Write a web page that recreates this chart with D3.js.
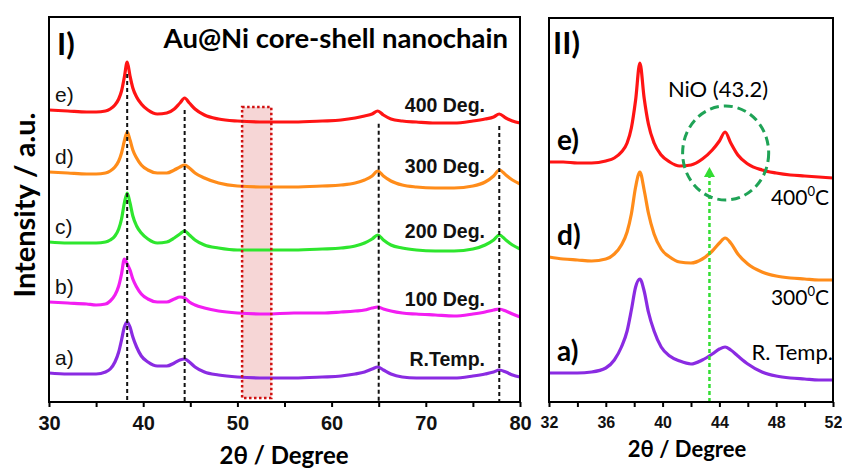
<!DOCTYPE html>
<html>
<head>
<meta charset="utf-8">
<script src="https://cdn.jsdelivr.net/npm/d3@7"></script>
<style>
  html, body { margin: 0; padding: 0; background: #fff; }
  svg { display: block; }
</style>
</head>
<body>
<svg id="chart" width="842" height="468"></svg>
<script>
// ---------- Panel I: full 2θ scan, five annealing temperatures (stacked, a.u.) ----------
const twoThetaI = [30, 32, 34, 35, 36, 36.5, 37, 37.4, 37.7, 38.0, 38.3, 38.6, 38.9, 39.3, 39.8, 40.5,
  41.5, 42.5, 43.3, 43.9, 44.4, 44.9, 45.5, 46.5, 48, 50, 53, 56, 59, 61, 62.5, 63.5, 64.3, 64.9,
  65.5, 66.3, 67.5, 69, 71, 73, 75, 76.3, 77.2, 77.8, 78.5, 79.2, 80];

const intensityRT = [29, 28, 28, 28, 30, 33, 40, 50, 62, 75, 80, 75, 65, 55, 46, 40, 36, 36, 39, 42,
  43, 40, 35, 30, 27, 25, 24, 24, 25, 26, 28, 30, 33, 35, 32, 28, 25, 24, 24, 24, 26, 28, 30, 32, 30, 27, 25];
const intensity100 = [100, 99, 98, 97, 98, 101, 107, 116, 128, 143, 138, 132, 123, 115, 108, 103, 100, 100,
  103, 105, 104, 100, 97, 94, 91, 89, 88, 89, 89, 90, 91, 92, 94, 95, 93, 91, 89, 88, 87, 86, 88, 90, 92, 93, 91, 88, 85];
const intensity200 = [160, 159, 159, 159, 160, 162, 166, 173, 183, 199, 209, 199, 186, 176, 169, 163, 159, 160,
  164, 168, 171, 167, 162, 157, 154, 152, 152, 152, 153, 154, 156, 159, 163, 167, 162, 157, 154, 152, 151, 151,
  153, 157, 162, 167, 162, 157, 153];
const intensity300 = [230, 229, 228, 228, 229, 231, 235, 241, 249, 261, 270, 262, 252, 244, 237, 232, 229, 229,
  232, 235, 237, 234, 229, 224, 219, 216, 215, 215, 216, 217, 219, 222, 226, 231, 226, 221, 217, 215, 214, 214,
  216, 220, 226, 232, 227, 222, 218];
const intensity400 = [292, 291, 290, 290, 291, 293, 297, 303, 311, 325, 340, 326, 314, 305, 298, 292, 288, 289,
  293, 299, 304, 299, 293, 287, 283, 281, 280, 280, 281, 282, 284, 286, 288, 291, 287, 283, 281, 280, 279, 279,
  281, 283, 285, 288, 284, 281, 279];

const sampleTagsI = ["a)", "b)", "c)", "d)", "e)"];
const tempLabelsI = ["R.Temp.", "100 Deg.", "200 Deg.", "300 Deg.", "400 Deg."];
const colorsI = ["#8a2be2", "#f21ef2", "#2ee62e", "#ff8c1a", "#ff1414"];

const refPeaks = [38.3, 44.4, 65.0, 77.8];      // Au reflections
const emptyWindow = [50.5, 53.6];              // region with no Ni / NiO reflection
const ticksI = [30, 35, 40, 45, 50, 55, 60, 65, 70, 75, 80];

// ---------- Panel II: zoom on 32–52°, NiO (43.2) emerging at 400 °C ----------
const twoThetaII = [32, 33, 34, 35, 36, 36.6, 37.1, 37.5, 37.8, 38.1, 38.4, 38.7, 39.0, 39.4, 39.9, 40.5,
  41.2, 42, 42.8, 43.5, 44.0, 44.4, 44.8, 45.3, 46, 47, 48, 49, 50, 51, 52];
const zoomRT = [29, 29, 29, 30, 34, 42, 55, 71, 92, 115, 123, 111, 90, 71, 55, 46, 41, 38, 42, 48, 53, 55,
  52, 46, 38, 30, 26, 24, 23, 22, 22];
const zoom300 = [145, 143, 142, 141, 143, 148, 157, 170, 188, 215, 230, 212, 189, 168, 153, 145, 140, 139,
  143, 151, 159, 164, 159, 148, 138, 130, 126, 124, 123, 122, 122];
const zoom400 = [240, 240, 239, 239, 241, 244, 250, 259, 274, 302, 339, 304, 278, 259, 247, 240, 236, 237,
  243, 252, 261, 270, 259, 247, 238, 232, 229, 227, 226, 225, 224];

const sampleTagsII = ["a)", "d)", "e)"];
const colorsII = ["#8a2be2", "#ff8c1a", "#ff1414"];
const nioPeak = 43.3;
const ticksII = [32, 34, 36, 38, 40, 42, 44, 46, 48, 50, 52];

// ---------- drawing ----------
const svg = d3.select("#chart");
const calibri = "Lato, 'Open Sans', sans-serif";
const arial = "'Liberation Sans', Arial, sans-serif";

const xI = d3.scaleLinear().domain([30, 80]).range([49, 520]);
const yI = d3.scaleLinear().domain([0, 385]).range([402, 17]);
const xII = d3.scaleLinear().domain([32, 52]).range([549, 833]);
const yII = d3.scaleLinear().domain([0, 384]).range([402, 18]);

function trace(g, xs, ys, x, y, color) {
  const line = d3.line().x((d, i) => x(xs[i])).y(d => y(d)).curve(d3.curveMonotoneX);
  g.append("path").attr("d", line(ys)).attr("fill", "none")
    .attr("stroke", color).attr("stroke-width", 3.2).attr("stroke-linejoin", "round");
}

function bottomAxis(g, x, y0, ticks, labelEvery, fontSize, labelY) {
  const ax = d3.axisBottom(x).tickValues(ticks).tickSize(5).tickSizeOuter(0)
    .tickFormat(d => (d % labelEvery === 0 ? d : ""));
  const a = g.append("g").attr("transform", `translate(0,${y0})`).call(ax);
  a.select(".domain").remove();
  a.selectAll(".tick line").attr("stroke", "#000").attr("stroke-width", 2);
  a.selectAll(".tick text").attr("y", labelY).attr("dy", null)
    .style("font-size", fontSize + "px").style("font-family", arial)
    .style("font-weight", "bold").attr("fill", "#111");
}

// ===== Panel I =====
const gI = svg.append("g");
const seriesI = [intensityRT, intensity100, intensity200, intensity300, intensity400];

// shaded window
gI.append("rect")
  .attr("x", xI(emptyWindow[0])).attr("width", xI(emptyWindow[1]) - xI(emptyWindow[0]))
  .attr("y", yI(295)).attr("height", yI(4) - yI(295))
  .attr("fill", "#f6d6d6");

seriesI.forEach((s, i) => trace(gI, twoThetaI, s, xI, yI, colorsI[i]));

gI.append("rect")
  .attr("x", xI(emptyWindow[0])).attr("width", xI(emptyWindow[1]) - xI(emptyWindow[0]))
  .attr("y", yI(295)).attr("height", yI(4) - yI(295))
  .attr("fill", "none").attr("stroke", "#d01010").attr("stroke-width", 2.5).attr("stroke-dasharray", "2.5,2.5");

// reference lines below the 400 °C trace
refPeaks.forEach(p => {
  const top = d3.scaleLinear().domain(twoThetaI).range(intensity400)(p) - 12;
  gI.append("line").attr("x1", xI(p)).attr("x2", xI(p)).attr("y1", yI(top)).attr("y2", yI(0))
    .attr("stroke", "#111").attr("stroke-width", 2).attr("stroke-dasharray", "4,3");
});

gI.append("rect").attr("x", 49).attr("y", 17).attr("width", 471).attr("height", 385)
  .attr("fill", "none").attr("stroke", "#000").attr("stroke-width", 2);
bottomAxis(gI, xI, 402, ticksI, 10, 20, 28);

seriesI.forEach((s, i) => {
  gI.append("text").attr("x", 55).attr("y", yI(s[0]) - 8)
    .attr("font-family", arial).attr("font-size", 21).attr("fill", "#111").text(sampleTagsI[i]);
  gI.append("text").attr("x", 485).attr("y", yI(s[s.length - 1]) - 11).attr("text-anchor", "end")
    .attr("font-family", arial).attr("font-weight", "bold").attr("font-size", 19.5).attr("fill", "#111")
    .text(tempLabelsI[i]);
});

gI.append("text").attr("x", 57).attr("y", 55).attr("font-family", calibri).attr("font-weight", "bold")
  .attr("font-size", 31).attr("fill", "#000").text("I)");
gI.append("text").attr("x", 508).attr("y", 48).attr("text-anchor", "end").attr("font-family", calibri)
  .attr("font-weight", "bold").attr("font-size", 27.5).attr("fill", "#000").text("Au@Ni core-shell nanochain");

gI.append("text").attr("x", 284).attr("y", 464).attr("text-anchor", "middle").attr("font-family", calibri)
  .attr("font-weight", "bold").attr("font-size", 24).attr("fill", "#000").text("2θ / Degree");
gI.append("text").attr("transform", "translate(35,205) rotate(-90)").attr("text-anchor", "middle")
  .attr("font-family", calibri).attr("font-weight", "bold").attr("font-size", 29).attr("fill", "#000")
  .text("Intensity / a.u.");

// ===== Panel II =====
const gII = svg.append("g");
const seriesII = [zoomRT, zoom300, zoom400];
seriesII.forEach((s, i) => trace(gII, twoThetaII, s, xII, yII, colorsII[i]));

// NiO marker: dotted arrow and dashed ring
const arrowTop = 235;
gII.append("line").attr("x1", xII(nioPeak)).attr("x2", xII(nioPeak))
  .attr("y1", yII(0)).attr("y2", yII(arrowTop) + 8)
  .attr("stroke", "#33dd33").attr("stroke-width", 2.5).attr("stroke-dasharray", "4,3");
gII.append("path")
  .attr("d", `M${xII(nioPeak)},${yII(arrowTop)} l-5.5,10 l11,0 z`)
  .attr("fill", "#33dd33");

const ring = { x: 44.44, y: 249, rx: 3.03, ry: 47 };
gII.append("ellipse")
  .attr("cx", xII(ring.x)).attr("cy", yII(ring.y))
  .attr("rx", xII(32 + ring.rx) - xII(32)).attr("ry", yII(0) - yII(ring.ry))
  .attr("fill", "none").attr("stroke", "#1fa356").attr("stroke-width", 3).attr("stroke-dasharray", "9,5");

gII.append("rect").attr("x", 549).attr("y", 18).attr("width", 284).attr("height", 384)
  .attr("fill", "none").attr("stroke", "#000").attr("stroke-width", 2);
bottomAxis(gII, xII, 402, ticksII, 4, 16, 26);

seriesII.forEach((s, i) => {
  gII.append("text").attr("x", 557).attr("y", yII(s[0]) - 12)
    .attr("font-family", calibri).attr("font-weight", "bold").attr("font-size", 28).attr("fill", "#000")
    .text(sampleTagsII[i]);
});

function degLabel(g, x, y, num) {
  const t = g.append("text").attr("x", x).attr("y", y).attr("text-anchor", "end")
    .attr("font-family", calibri).attr("font-size", 21).attr("fill", "#000");
  t.append("tspan").text(num);
  t.append("tspan").attr("font-size", 13).attr("dy", -9).text("0");
  t.append("tspan").attr("dy", 9).text("C");
}
degLabel(gII, 829, yII(zoom400[zoom400.length - 1]) + 27, "400");
degLabel(gII, 829, yII(zoom300[zoom300.length - 1]) + 25, "300");
gII.append("text").attr("x", 833).attr("y", yII(zoomRT[zoomRT.length - 1]) - 20).attr("text-anchor", "end")
  .attr("font-family", calibri).attr("font-size", 22).attr("fill", "#000").text("R. Temp.");

gII.append("text").attr("x", 718).attr("y", 97).attr("text-anchor", "middle").attr("font-family", calibri)
  .attr("font-size", 22).attr("fill", "#000").text("NiO (43.2)");

gII.append("text").attr("x", 553).attr("y", 54).attr("font-family", calibri).attr("font-weight", "bold")
  .attr("font-size", 31).attr("fill", "#000").text("II)");
gII.append("text").attr("x", 687).attr("y", 457).attr("text-anchor", "middle").attr("font-family", calibri)
  .attr("font-weight", "bold").attr("font-size", 22).attr("fill", "#000").text("2θ / Degree");
</script>
</body>
</html>
